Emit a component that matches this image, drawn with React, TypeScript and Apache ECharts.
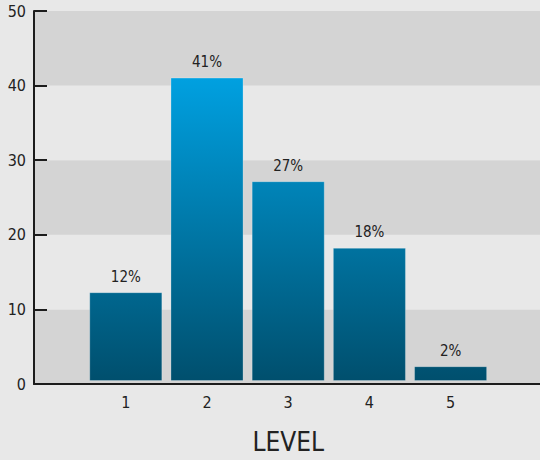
import React, { useEffect, useRef } from "react";
import * as echarts from "echarts";

const levels = ["1", "2", "3", "4", "5"];
const percents = [12, 41, 27, 18, 2];
const yTicks = { min: 0, max: 50, interval: 10 };
const axisName = "LEVEL";

const FONT = "'Liberation Sans Narrow', 'DejaVu Sans Condensed', 'Roboto', sans-serif";

export default function App() {
  const ref = useRef<HTMLDivElement>(null);
  useEffect(() => {
    document.body.style.margin = "0";
    if (!ref.current) return;
    const chart = echarts.init(ref.current, undefined, { renderer: "svg" });
    const gradient = new echarts.graphic.LinearGradient(
      0, 79, 0, 384,
      [
        { offset: 0, color: "#00a0e0" },
        { offset: 1, color: "#004e6c" },
      ],
      true
    );
    chart.setOption({
      animation: false,
      backgroundColor: "#e8e8e8",
      textStyle: { fontFamily: FONT },
      grid: [
        { left: 34, right: 0, top: 11, bottom: 76 },
        { left: 85.2, width: 406, top: 11, bottom: 76 },
      ],
      xAxis: [
        {
          type: "value",
          gridIndex: 0,
          min: 0,
          max: 1,
          z: 5,
          axisLine: { show: true, onZero: false, lineStyle: { color: "#1c1c1c", width: 2 } },
          axisTick: { show: false },
          axisLabel: { show: false },
          splitLine: { show: false },
        },
        {
          type: "category",
          gridIndex: 1,
          data: levels,
          axisLine: { show: false },
          axisTick: { show: false },
          axisLabel: { color: "#222", fontSize: 16, margin: 13, fontFamily: FONT },
          name: axisName,
          nameLocation: "middle",
          nameGap: 48,
          nameTextStyle: { color: "#222", fontSize: 26, fontFamily: FONT },
        },
      ],
      yAxis: [
        {
          type: "value",
          gridIndex: 0,
          min: yTicks.min,
          max: yTicks.max,
          interval: yTicks.interval,
          axisLine: { show: true, lineStyle: { color: "#1c1c1c", width: 2 } },
          axisTick: { show: true, inside: true, length: 13, lineStyle: { color: "#1c1c1c", width: 2 } },
          axisLabel: { color: "#222", fontSize: 16, margin: 8, fontFamily: FONT },
          splitLine: { show: false },
          splitArea: { show: true, areaStyle: { color: ["#d4d4d4", "#e8e8e8"] } },
        },
        {
          type: "value",
          gridIndex: 1,
          min: yTicks.min,
          max: yTicks.max,
          show: false,
        },
      ],
      series: [
        {
          type: "bar",
          xAxisIndex: 1,
          yAxisIndex: 1,
          data: percents,
          barCategoryGap: "10%",
          itemStyle: {
            color: gradient,
            borderColor: "rgba(255,255,255,0.25)",
            borderWidth: 1,
          },
          label: {
            show: true,
            position: "top",
            distance: 8,
            formatter: "{c}%",
            color: "#222",
            fontSize: 15,
            fontFamily: FONT,
          },
        },
      ],
    });
    return () => chart.dispose();
  }, []);
  return <div ref={ref} style={{ width: 540, height: 460 }} />;
}
